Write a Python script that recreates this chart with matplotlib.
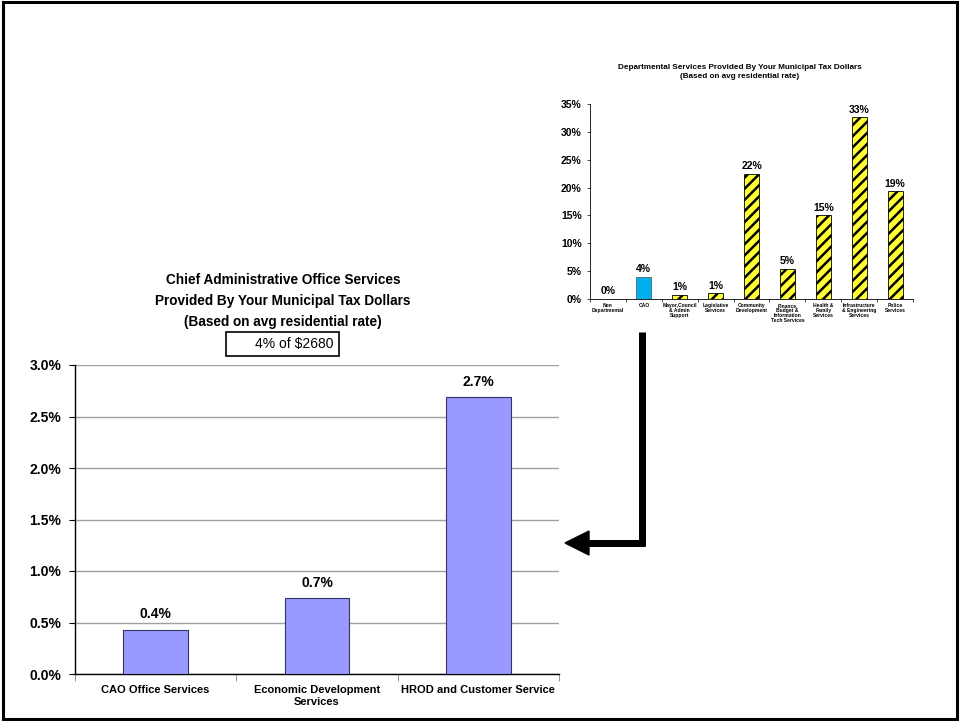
import numpy as np
import matplotlib.pyplot as plt
from matplotlib.patches import Rectangle, Polygon
from matplotlib.lines import Line2D
from matplotlib.ticker import FuncFormatter, MultipleLocator

plt.rcParams['font.family'] = ['Liberation Sans', 'DejaVu Sans']
plt.rcParams['hatch.linewidth'] = 1.8

# CAO breakdown (percent of the average residential tax bill)
cao_services = ["CAO Office Services", "Economic Development\nServices",
                "HROD and Customer Service"]
cao_share = [0.43, 0.74, 2.69]

# Department-level breakdown (percent)
departments = ["Non\nDepartmental", "CAO", "Mayor,Council\n& Admin\nSupport",
               "Legislative\nServices", "Community\nDevelopment",
               "Finance,\nBudget &\nInformation\nTech Services",
               "Health &\nFamily\nServices", "Infrastructure\n& Engineering\nServices",
               "Police\nServices"]
dept_share = [0.0, 4.0, 0.7, 1.0, 22.4, 5.4, 15.0, 32.6, 19.3]
highlight = "CAO"
bill_note = "4% of $2680"

W, H = 960, 721
fig = plt.figure(figsize=(W / 100, H / 100), dpi=100)


def fx(px):
    return px / W


def fy(py):
    return 1 - py / H


# ---- main chart: CAO services ----
ax = fig.add_axes([fx(75), fy(674), fx(559) - fx(75), fy(365) - fy(674)])
x = np.arange(len(cao_services))
bars = ax.bar(x, cao_share, width=0.4, color="#9999FF", edgecolor="#333366",
              linewidth=0.8, zorder=3)
ax.set_xlim(-0.5, len(cao_services) - 0.5)
ax.set_ylim(0, 3.0)
ax.yaxis.set_major_locator(MultipleLocator(0.5))
ax.yaxis.set_major_formatter(FuncFormatter(lambda v, p: f"{v:.1f}%"))
ax.grid(axis="y", color="#A0A0A0", linewidth=1.0, zorder=0)
for s in ("top", "right"):
    ax.spines[s].set_visible(False)
for s in ("left", "bottom"):
    ax.spines[s].set_color("black")
    ax.spines[s].set_linewidth(1.0)
ax.set_xticks(x)
ax.set_xticklabels(cao_services, fontsize=8, fontweight="bold")
ax.tick_params(axis="x", length=0, pad=8)
ax.set_xticks(np.arange(-0.5, len(cao_services)), minor=True)
ax.tick_params(axis="x", which="minor", length=5, color="#808080")
ax.tick_params(axis="y", length=4, labelsize=10, pad=6)
for lab in ax.get_yticklabels():
    lab.set_fontweight("bold")
for b, v in zip(bars, cao_share):
    ax.text(b.get_x() + b.get_width() / 2, v + 0.08, f"{v:.1f}%",
            ha="center", va="bottom", fontsize=10, fontweight="bold")

fig.text(fx(283), fy(301),
         "Chief Administrative Office Services\nProvided By Your Municipal Tax Dollars\n(Based on avg residential rate)",
         ha="center", va="center", fontsize=9.8, fontweight="bold", linespacing=1.6)
fig.patches.append(Rectangle((fx(226), fy(356)), fx(339) - fx(226), fy(332) - fy(356),
                             transform=fig.transFigure, fill=False,
                             edgecolor="black", linewidth=1.2))
fig.text(fx(294), fy(344), bill_note, ha="center", va="center", fontsize=10)

# ---- inset chart: all departments ----
ax2 = fig.add_axes([fx(590), fy(299), fx(913) - fx(590), fy(104) - fy(299)])
x2 = np.arange(len(departments))
for xi, name, v in zip(x2, departments, dept_share):
    if name == highlight:
        ax2.bar(xi, v, width=0.42, color="#00B0F0", edgecolor="#4d4d4d",
                linewidth=0.5)
    else:
        ax2.bar(xi, v, width=0.42, color="#FFFF33", edgecolor="black",
                hatch="///", linewidth=0.6)
    ax2.text(xi, v + 0.5, f"{v:.0f}%", ha="center", va="bottom",
             fontsize=7.5, fontweight="bold")
ax2.set_xlim(-0.5, len(departments) - 0.5)
ax2.set_ylim(0, 35)
ax2.yaxis.set_major_locator(MultipleLocator(5))
ax2.yaxis.set_major_formatter(FuncFormatter(lambda v, p: f"{v:.0f}%"))
for s in ("top", "right"):
    ax2.spines[s].set_visible(False)
for s in ("left", "bottom"):
    ax2.spines[s].set_linewidth(0.6)
ax2.set_xticks(x2)
ax2.set_xticklabels(departments, fontsize=3.6, fontweight="bold", linespacing=1.0)
ax2.tick_params(axis="x", length=0, pad=3)
ax2.set_xticks(np.arange(-0.5, len(departments)), minor=True)
ax2.tick_params(axis="x", which="minor", length=2, width=0.5)
ax2.tick_params(axis="y", length=2, width=0.5, labelsize=7.5, pad=4)
for lab in ax2.get_yticklabels():
    lab.set_fontweight("bold")
fig.text(fx(740), fy(72),
         "Departmental Services Provided By Your Municipal Tax Dollars\n(Based on avg residential rate)",
         ha="center", va="center", fontsize=5.9, fontweight="bold", linespacing=1.3)

# ---- elbow arrow linking the two charts ----
lw = 7 * 72 / 100
fig.lines.append(Line2D([fx(642), fx(642)], [fy(332), fy(546)],
                        transform=fig.transFigure, color="black", linewidth=lw,
                        solid_capstyle="butt"))
fig.lines.append(Line2D([fx(645), fx(586)], [fy(543), fy(543)],
                        transform=fig.transFigure, color="black", linewidth=lw,
                        solid_capstyle="butt"))
fig.patches.append(Polygon([(fx(565), fy(543)), (fx(589), fy(531)), (fx(589), fy(555))],
                           closed=True, transform=fig.transFigure,
                           facecolor="black", edgecolor="black"))

# slide border
fig.patches.append(Rectangle((fx(3), fy(719)), fx(957) - fx(3), fy(2) - fy(719),
                             transform=fig.transFigure, fill=False,
                             edgecolor="black", linewidth=2.2))

fig.savefig("out.png", dpi=100)
